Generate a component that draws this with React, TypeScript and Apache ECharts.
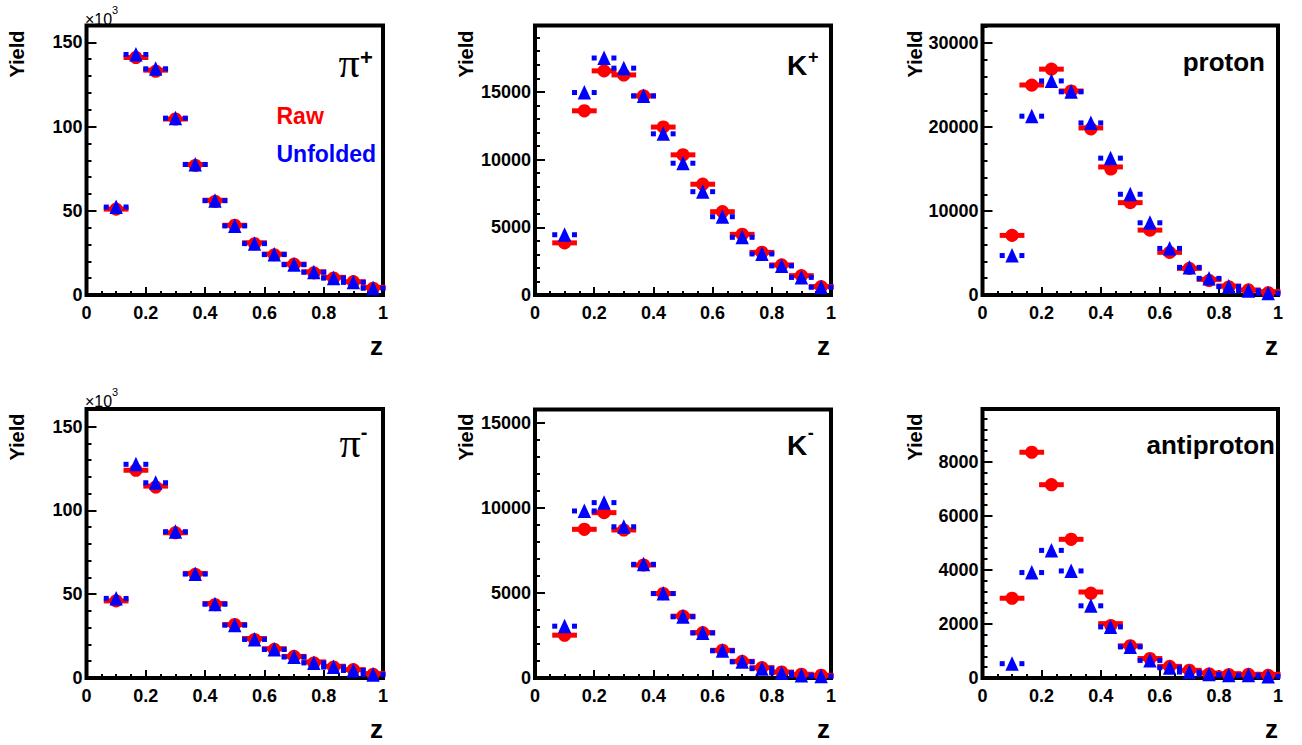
import React, { useEffect, useRef } from 'react';
import * as echarts from 'echarts';

// Bin centres in z (15 bins of width 1/15, first bin starts at 1/15)
const zCenters = [0.1, 0.1667, 0.2333, 0.3, 0.3667, 0.4333, 0.5, 0.5667, 0.6333, 0.7, 0.7667, 0.8333, 0.9, 0.9667];

// pi+ (units of 10^3)
const piPlusRaw = [51, 141, 133.5, 104.5, 77.5, 56.2, 41.4, 31, 24.3, 18.3, 13.8, 10.5, 7.9, 4.5];
const piPlusUnf = [52.2, 142.8, 134.3, 105, 77.5, 56, 41, 30.5, 24, 18, 13.5, 10, 7.5, 4];
// K+
const kPlusRaw = [3850, 13600, 16550, 16250, 14700, 12400, 10350, 8180, 6150, 4480, 3150, 2220, 1430, 620];
const kPlusUnf = [4450, 14950, 17500, 16750, 14700, 11900, 9730, 7630, 5780, 4260, 3030, 2150, 1300, 570];
// proton
const protonRaw = [7100, 25000, 26900, 24300, 19900, 15250, 11000, 7730, 5080, 3170, 1860, 1070, 600, 400];
const protonUnf = [4700, 21300, 25500, 24200, 20500, 16300, 12000, 8600, 5550, 3290, 1980, 1000, 500, 200];
// pi- (units of 10^3)
const piMinusRaw = [46, 124, 114.5, 86.7, 62.4, 44.4, 31.9, 23.5, 17.5, 12.9, 9.6, 7, 5, 2.6];
const piMinusUnf = [47.5, 127.5, 116.5, 87.3, 62, 44, 31.5, 23, 17, 12.5, 9, 6.5, 4.5, 2];
// K-
const kMinusRaw = [2520, 8750, 9730, 8710, 6650, 4970, 3640, 2670, 1630, 980, 610, 350, 220, 160];
const kMinusUnf = [3050, 9830, 10320, 8900, 6690, 4970, 3600, 2650, 1600, 950, 550, 300, 150, 100];
// antiproton
const pbarRaw = [2950, 8350, 7150, 5130, 3180, 2010, 1190, 720, 430, 285, 185, 160, 135, 135];
const pbarUnf = [530, 3900, 4720, 3960, 2670, 1890, 1150, 650, 380, 220, 135, 100, 100, 60];

const xTickLabels = ['0', '0.2', '0.4', '0.6', '0.8', '1'];

const RED = '#ff0000';
const BLUE = '#0000ff';
const HALF_BIN = 1 / 30;
const SANS = '"Liberation Sans", Arial, Helvetica, sans-serif';
const SERIF = '"Liberation Serif", "Times New Roman", serif';

const panels = [
  { raw: piPlusRaw, unf: piPlusUnf, yMax: 160, major: 50, left: 86.5, top: 25.5, width: 296.5, height: 269.5 },
  { raw: kPlusRaw, unf: kPlusUnf, yMax: 19900, major: 5000, left: 535, top: 25.5, width: 296, height: 269.5 },
  { raw: protonRaw, unf: protonUnf, yMax: 32100, major: 10000, left: 982.5, top: 25.5, width: 295.5, height: 269.5 },
  { raw: piMinusRaw, unf: piMinusUnf, yMax: 160.5, major: 50, left: 86.5, top: 409, width: 296.5, height: 269 },
  { raw: kMinusRaw, unf: kMinusUnf, yMax: 15800, major: 5000, left: 535, top: 409.5, width: 296, height: 268.5 },
  { raw: pbarRaw, unf: pbarUnf, yMax: 9950, major: 2000, left: 982.5, top: 409, width: 295.5, height: 269 },
];

function renderRaw(_params: any, api: any) {
  const x = api.value(0);
  const y = api.value(1);
  const c = api.coord([x, y]);
  const l = api.coord([x - HALF_BIN, y])[0];
  const r = api.coord([x + HALF_BIN, y])[0];
  return {
    type: 'group',
    children: [
      { type: 'rect', shape: { x: l - 2.5, y: c[1] - 2.5, width: r - l + 5, height: 5 }, style: { fill: RED } },
      { type: 'circle', shape: { cx: c[0], cy: c[1], r: 6.6 }, style: { fill: RED } },
    ],
  };
}

function renderUnf(_params: any, api: any) {
  const x = api.value(0);
  const y = api.value(1);
  const c = api.coord([x, y]);
  const l = api.coord([x - HALF_BIN, y])[0];
  const r = api.coord([x + HALF_BIN, y])[0];
  return {
    type: 'group',
    children: [
      { type: 'rect', shape: { x: l - 2.5, y: c[1] - 2.5, width: 5, height: 5 }, style: { fill: BLUE } },
      { type: 'rect', shape: { x: r - 2.5, y: c[1] - 2.5, width: 5, height: 5 }, style: { fill: BLUE } },
      {
        type: 'polygon',
        shape: { points: [[c[0], c[1] - 7.5], [c[0] - 6.7, c[1] + 7], [c[0] + 6.7, c[1] + 7]] },
        style: { fill: BLUE },
      },
    ],
  };
}

function txt(text: string, x: number, y: number, font: string, opts: any = {}) {
  const align = opts.align ?? 'left';
  return {
    type: 'text',
    x,
    y,
    rotation: opts.rotation ?? 0,
    silent: true,
    z: 100,
    style: {
      text,
      font,
      fill: opts.fill ?? '#000',
      align,
      verticalAlign: 'middle',
      textAlign: align,
      textVerticalAlign: 'middle',
    },
  };
}

function buildOption() {
  const grid = panels.map((p) => ({
    left: p.left,
    top: p.top,
    width: p.width,
    height: p.height,
    show: false,
  }));

  const xAxis = panels.map((_p, i) => ({
    gridIndex: i,
    type: 'value',
    min: 0,
    max: 1,
    interval: 0.2,
    axisLine: { show: false },
    axisTick: { show: true, inside: true, length: 8, lineStyle: { color: '#000', width: 2 } },
    minorTick: { show: true, splitNumber: 4, length: 4, lineStyle: { color: '#000', width: 2 } },
    splitLine: { show: false },
    minorSplitLine: { show: false },
    axisLabel: {
      margin: 9,
      color: '#000',
      fontFamily: SANS,
      fontWeight: 'bold',
      fontSize: 18,
      showMinLabel: true,
      showMaxLabel: true,
      formatter: (v: number) => xTickLabels[Math.round(v / 0.2)] ?? '',
    },
  }));

  const yAxis = panels.map((p, i) => ({
    gridIndex: i,
    type: 'value',
    min: 0,
    max: p.yMax,
    interval: p.major,
    axisLine: { show: false },
    axisTick: { show: true, inside: true, length: 10, lineStyle: { color: '#000', width: 2 } },
    minorTick: { show: true, splitNumber: 5, length: 5, lineStyle: { color: '#000', width: 2 } },
    splitLine: { show: false },
    minorSplitLine: { show: false },
    axisLabel: {
      margin: 4,
      color: '#000',
      fontFamily: SANS,
      fontWeight: 'bold',
      fontSize: 18,
      showMaxLabel: false,
      formatter: (v: number) => (Math.abs(v / p.major - Math.round(v / p.major)) < 1e-6 ? String(v) : ''),
    },
  }));

  const series: any[] = [];
  panels.forEach((p, i) => {
    series.push({
      type: 'custom',
      xAxisIndex: i,
      yAxisIndex: i,
      clip: false,
      silent: true,
      z: 5,
      renderItem: renderRaw,
      encode: { x: 0, y: 1 },
      data: zCenters.map((z, k) => [z, p.raw[k]]),
    });
  });
  panels.forEach((p, i) => {
    series.push({
      type: 'custom',
      xAxisIndex: i,
      yAxisIndex: i,
      clip: false,
      silent: true,
      z: 6,
      renderItem: renderUnf,
      encode: { x: 0, y: 1 },
      data: zCenters.map((z, k) => [z, p.unf[k]]),
    });
  });

  const bold = (s: number) => `bold ${s}px ${SANS}`;
  const graphic: any[] = [];
  // thick frames
  panels.forEach((p) => {
    graphic.push({
      type: 'rect',
      silent: true,
      z: 1,
      shape: { x: p.left, y: p.top, width: p.width, height: p.height },
      style: { fill: 'none', stroke: '#000', lineWidth: 4 },
    });
  });
  // Yield labels
  const yieldX = [17, 465.5, 914.5];
  const yieldY = [54, 437];
  yieldY.forEach((yy) => yieldX.forEach((xx) => graphic.push(txt('Yield', xx, yy, bold(20), { align: 'center', rotation: Math.PI / 2 }))));
  // z labels
  const zX = [383, 830, 1278];
  const zY = [346, 729];
  zY.forEach((yy) => zX.forEach((xx) => graphic.push(txt('z', xx, yy, bold(26), { align: 'right' }))));
  // x10^3
  graphic.push(txt('\u00d710', 85, 19, `16px ${SANS}`));
  graphic.push(txt('3', 112, 10, `11px ${SANS}`));
  graphic.push(txt('\u00d710', 85, 401, `16px ${SANS}`));
  graphic.push(txt('3', 112, 392, `11px ${SANS}`));
  // particle titles
  graphic.push(txt('\u03c0', 349, 63, `42px ${SERIF}`, { align: 'center' }));
  graphic.push(txt('+', 366.5, 57.5, bold(22), { align: 'center' }));
  graphic.push(txt('\u03c0', 350, 443, `42px ${SERIF}`, { align: 'center' }));
  graphic.push(txt('-', 364.2, 432, bold(20), { align: 'center' }));
  graphic.push(txt('K', 787, 65, bold(28)));
  graphic.push(txt('+', 813.3, 56.7, bold(18), { align: 'center' }));
  graphic.push(txt('K', 787, 445, bold(28)));
  graphic.push(txt('-', 810.8, 432.5, bold(18), { align: 'center' }));
  graphic.push(txt('proton', 1265, 61.7, bold(26), { align: 'right' }));
  graphic.push(txt('antiproton', 1275, 445, bold(26), { align: 'right' }));
  // legend-like labels
  graphic.push(txt('Raw', 276.5, 116, bold(23), { fill: RED }));
  graphic.push(txt('Unfolded', 276.5, 154, bold(23), { fill: BLUE }));

  return {
    animation: false,
    backgroundColor: '#fff',
    grid,
    xAxis,
    yAxis,
    series,
    graphic: { elements: graphic },
  };
}

export default function App() {
  const ref = useRef<HTMLDivElement>(null);
  useEffect(() => {
    if (!ref.current) return;
    const chart = echarts.init(ref.current, undefined, { renderer: 'svg' });
    chart.setOption(buildOption() as any);
    return () => chart.dispose();
  }, []);
  return (
    <div
      ref={ref}
      style={{ position: 'absolute', left: 0, top: 0, width: 1302, height: 745, background: '#fff' }}
    />
  );
}
